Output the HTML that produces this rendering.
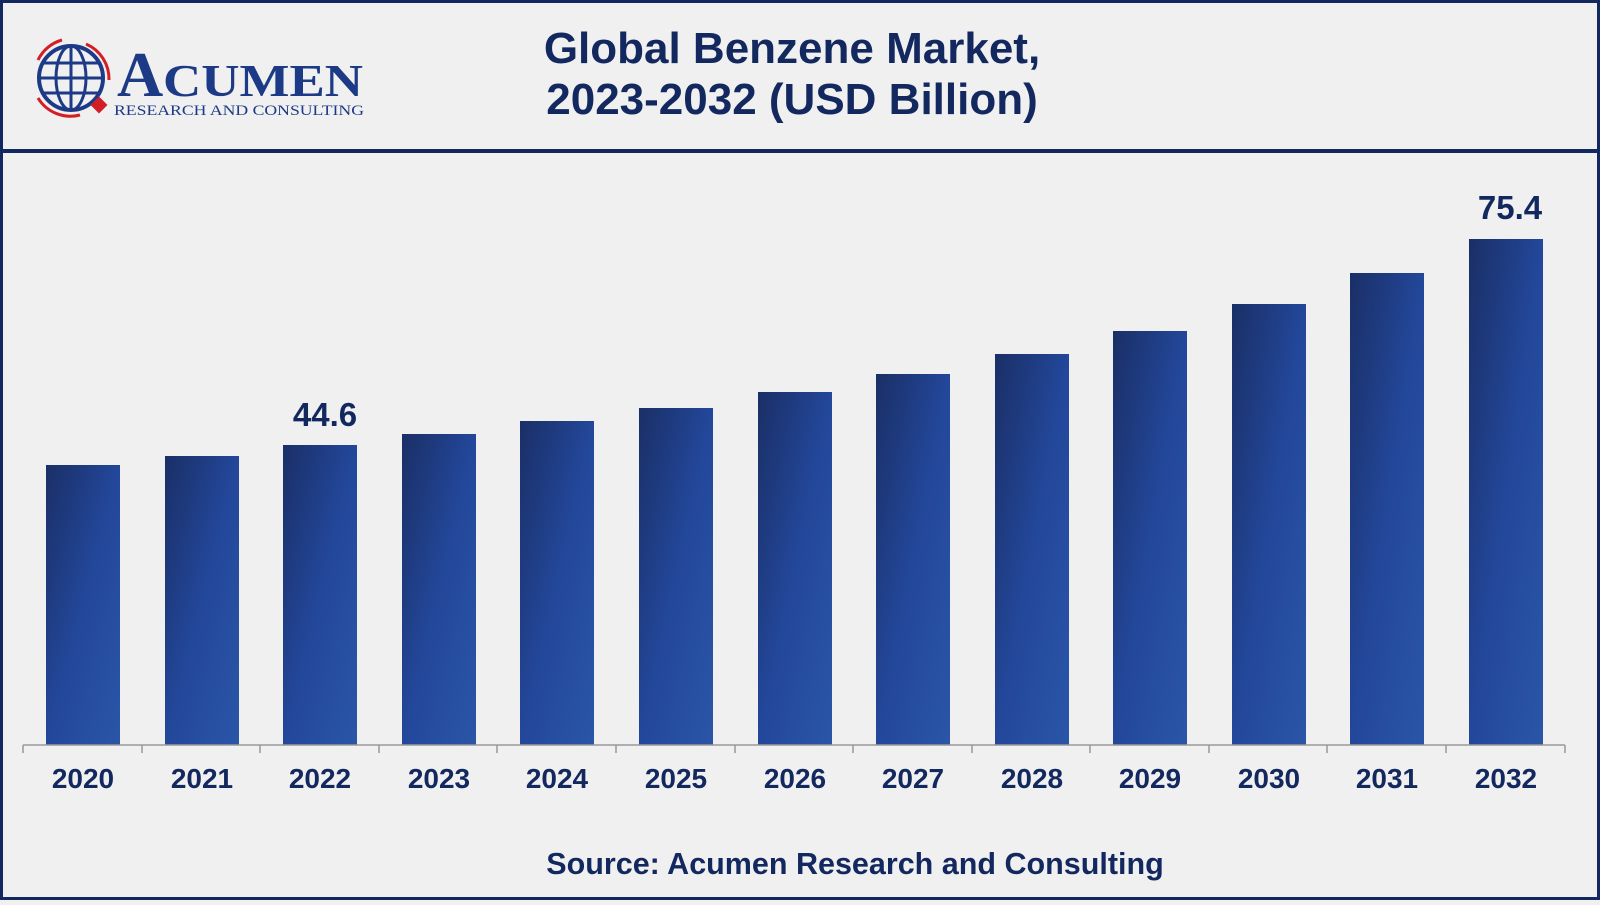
<!DOCTYPE html>
<html><head><meta charset="utf-8"><style>
body{margin:0;width:1600px;height:900px;background:#f0f0f0;overflow:hidden;font-family:"Liberation Sans",Arial,sans-serif}
</style></head><body>
<svg width="1600" height="900" xmlns="http://www.w3.org/2000/svg">
<defs>
<linearGradient id="g" x1="0" y1="0" x2="1" y2="1">
<stop offset="0" stop-color="#1a2f66"/><stop offset="0.5" stop-color="#23479a"/><stop offset="1" stop-color="#2a56a8"/>
</linearGradient>
</defs>
<rect x="1.5" y="1.5" width="1597" height="897" fill="#f0f0f0" stroke="#12285e" stroke-width="3"/>
<rect x="0" y="149" width="1600" height="4" fill="#12285e"/>
<!-- logo -->
<g>
<circle cx="71" cy="78" r="32" fill="none" stroke="#1d3a86" stroke-width="4"/>
<ellipse cx="71" cy="78" rx="15" ry="32" fill="none" stroke="#1d3a86" stroke-width="3"/>
<line x1="39" y1="78" x2="103" y2="78" stroke="#1d3a86" stroke-width="3"/>
<line x1="43" y1="63" x2="99" y2="63" stroke="#1d3a86" stroke-width="3"/>
<line x1="43" y1="93" x2="99" y2="93" stroke="#1d3a86" stroke-width="3"/>
<line x1="71" y1="46" x2="71" y2="110" stroke="#1d3a86" stroke-width="3"/>
<path d="M38 60 A38 38 0 0 1 62 40" fill="none" stroke="#d21f26" stroke-width="3"/>
<path d="M86 44 A38 38 0 0 1 109 80" fill="none" stroke="#d21f26" stroke-width="3"/>
<path d="M38 98 A38 38 0 0 0 80 115" fill="none" stroke="#d21f26" stroke-width="3"/>
<rect x="93" y="99" width="12" height="12" fill="#d21f26" transform="rotate(45 99 105)"/>
<text x="117" y="96" font-family="Liberation Serif,serif" font-size="64" fill="#1d3a86" font-weight="bold">A</text>
<text x="163" y="96" font-family="Liberation Serif,serif" font-size="46" fill="#1d3a86" font-weight="bold" textLength="200" lengthAdjust="spacingAndGlyphs">CUMEN</text>
<text x="114" y="115" font-family="Liberation Serif,serif" font-size="15" fill="#1d3a86" textLength="250" lengthAdjust="spacingAndGlyphs">RESEARCH AND CONSULTING</text>
</g>
<g fill="#12285e" font-weight="bold" text-anchor="middle">
<text x="792" y="63" font-size="44">Global Benzene Market,</text>
<text x="792" y="114" font-size="44">2023-2032 (USD Billion)</text>
<text x="855" y="874" font-size="30.5">Source: Acumen Research and Consulting</text>
<text x="325" y="426" font-size="33">44.6</text>
<text x="1510" y="219" font-size="33">75.4</text>
</g>
<g fill="url(#g)">
<rect x="46" y="465" width="74" height="280"/>
<rect x="165" y="456" width="74" height="289"/>
<rect x="283" y="445" width="74" height="300"/>
<rect x="402" y="434" width="74" height="311"/>
<rect x="520" y="421" width="74" height="324"/>
<rect x="639" y="408" width="74" height="337"/>
<rect x="758" y="392" width="74" height="353"/>
<rect x="876" y="374" width="74" height="371"/>
<rect x="995" y="354" width="74" height="391"/>
<rect x="1113" y="331" width="74" height="414"/>
<rect x="1232" y="304" width="74" height="441"/>
<rect x="1350" y="273" width="74" height="472"/>
<rect x="1469" y="239" width="74" height="506"/>
</g>
<g stroke="#999" stroke-width="1.5">
<line x1="23" y1="745" x2="1565" y2="745"/>
<line x1="23" y1="745" x2="23" y2="753"/><line x1="142" y1="745" x2="142" y2="753"/><line x1="260" y1="745" x2="260" y2="753"/><line x1="379" y1="745" x2="379" y2="753"/><line x1="497" y1="745" x2="497" y2="753"/><line x1="616" y1="745" x2="616" y2="753"/><line x1="735" y1="745" x2="735" y2="753"/><line x1="853" y1="745" x2="853" y2="753"/><line x1="972" y1="745" x2="972" y2="753"/><line x1="1090" y1="745" x2="1090" y2="753"/><line x1="1209" y1="745" x2="1209" y2="753"/><line x1="1327" y1="745" x2="1327" y2="753"/><line x1="1446" y1="745" x2="1446" y2="753"/><line x1="1565" y1="745" x2="1565" y2="753"/>
</g>
<g fill="#12285e" font-weight="bold" font-size="28" text-anchor="middle">
<text x="83" y="788">2020</text><text x="202" y="788">2021</text><text x="320" y="788">2022</text><text x="439" y="788">2023</text><text x="557" y="788">2024</text><text x="676" y="788">2025</text><text x="795" y="788">2026</text><text x="913" y="788">2027</text><text x="1032" y="788">2028</text><text x="1150" y="788">2029</text><text x="1269" y="788">2030</text><text x="1387" y="788">2031</text><text x="1506" y="788">2032</text>
</g>
</svg>
</body></html>
